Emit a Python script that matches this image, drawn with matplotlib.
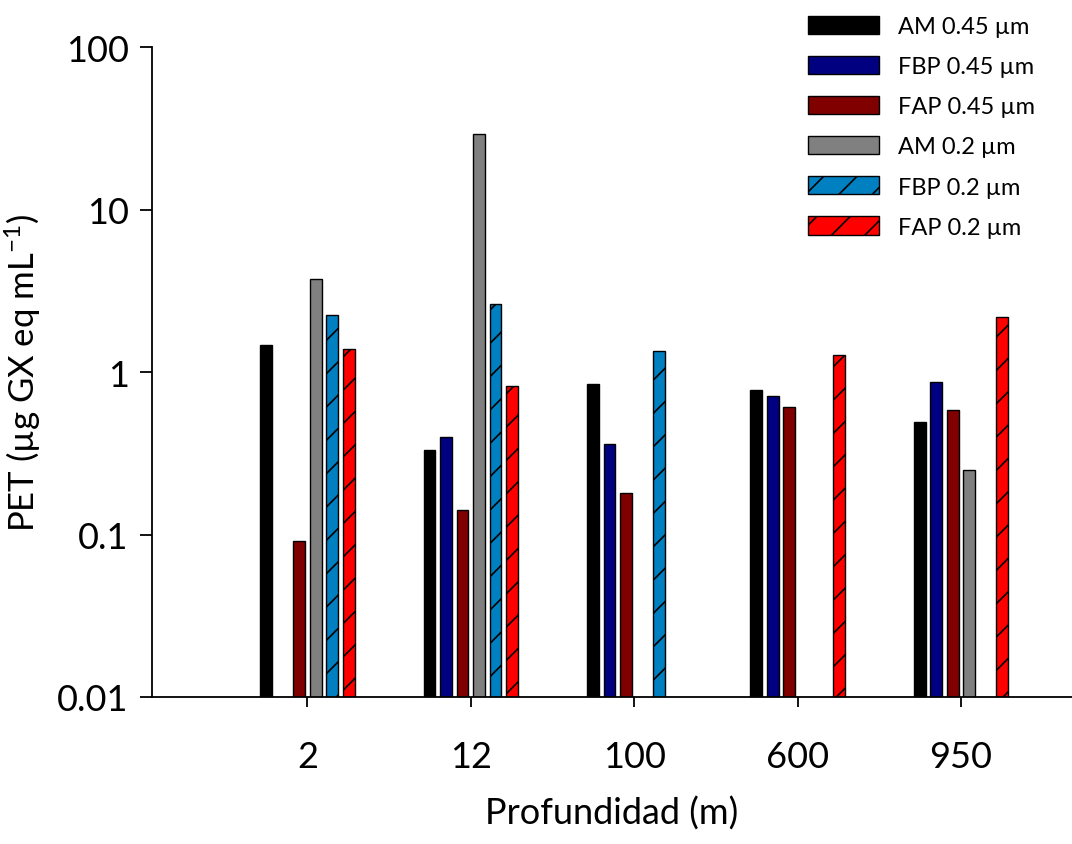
import numpy as np
import matplotlib
matplotlib.use("Agg")
import matplotlib.pyplot as plt

plt.rcParams['font.family'] = ['Lato', 'DejaVu Sans']
plt.rcParams['mathtext.default'] = 'regular'
plt.rcParams['hatch.linewidth'] = 1.2

# Datos (PET, µg GX eq mL-1); nan = sin dato
profundidades = ["2", "12", "100", "600", "950"]
am_045 = [1.47, 0.33, 0.84, 0.78, 0.49]
fbp_045 = [np.nan, 0.40, 0.36, 0.715, 0.87]
fap_045 = [0.091, 0.142, 0.181, 0.61, 0.58]
am_02 = [3.75, 29.0, np.nan, np.nan, 0.25]
fbp_02 = [2.26, 2.62, 1.34, np.nan, np.nan]
fap_02 = [1.38, 0.82, np.nan, 1.27, 2.19]

series = [
    ("AM 0.45 µm", am_045, "#000000", None),
    ("FBP 0.45 µm", fbp_045, "#000080", None),
    ("FAP 0.45 µm", fap_045, "#800000", None),
    ("AM 0.2 µm", am_02, "#808080", None),
    ("FBP 0.2 µm", fbp_02, "#0080C0", "/"),
    ("FAP 0.2 µm", fap_02, "#FF0000", "/"),
]

fig = plt.figure(figsize=(10.72, 8.45), dpi=100)
ax = fig.add_axes([0.142, 0.174, 0.858, 0.769])

x = np.arange(len(profundidades))
paso = 0.101
ancho = 0.072
for i, (nombre, vals, color, hatch) in enumerate(series):
    ax.bar(x + (i - 2.5) * paso, vals, width=ancho, bottom=0,
           color=color, edgecolor="black", linewidth=1.0,
           hatch=hatch, label=nombre)

ax.set_yscale("log")
ax.set_ylim(0.01, 100)
ax.set_xlim(-0.95, 4.68)
ax.set_yticks([0.01, 0.1, 1, 10, 100])
ax.set_yticklabels(["0.01", "0.1", "1", "10", "100"])
ax.minorticks_off()
ax.set_xticks(x)
ax.set_xticklabels(profundidades)

ax.spines["top"].set_visible(False)
ax.spines["right"].set_visible(False)
ax.spines["left"].set_linewidth(1.3)
ax.spines["bottom"].set_linewidth(1.3)
ax.tick_params(axis="y", labelsize=26, length=9, width=1.3, pad=8)
ax.tick_params(axis="x", labelsize=26, length=7, width=1.3, pad=24)

ax.set_xlabel("Profundidad (m)", fontsize=26, labelpad=16)
ax.set_ylabel("PET (µg GX eq mL$^{-1}$)", fontsize=25, labelpad=10)

leg = ax.legend(loc="upper right", bbox_to_anchor=(0.975, 1.07), frameon=False,
                fontsize=17, handlelength=3.0, handleheight=0.8,
                labelspacing=0.8, handletextpad=0.8, borderaxespad=0.2)

fig.savefig("out.png", dpi=100)
